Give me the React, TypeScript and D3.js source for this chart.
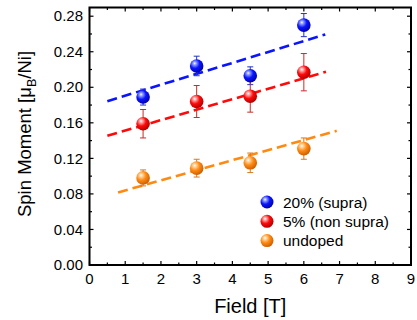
import React from "react";
import * as d3 from "d3";

const fields = [1.5, 3, 4.5, 6];
const seriesNames = ["20% (supra)", "5% (non supra)", "undoped"];
const blueVals = [0.189, 0.224, 0.213, 0.270];
const blueErr = [0.009, 0.011, 0.010, 0.013];
const redVals = [0.159, 0.184, 0.190, 0.217];
const redErr = [0.016, 0.018, 0.018, 0.021];
const orangeVals = [0.098, 0.109, 0.115, 0.131];
const orangeErr = [0.009, 0.010, 0.011, 0.012];
// fit lines: [xStart, yStart, xEnd, yEnd]
const blueFit = [0.5, 0.1844, 6.6, 0.2594];
const redFit = [0.5, 0.1454, 6.62, 0.2174];
const orangeFit = [0.8, 0.0817, 6.92, 0.151];
const xTicks = [0, 1, 2, 3, 4, 5, 6, 7, 8, 9];
const yTicks = [0, 0.04, 0.08, 0.12, 0.16, 0.2, 0.24, 0.28];

const W = 417, H = 320;
const L = 89.5, R = 411, T = 7.5, B = 265;

const colors = [
  { main: "#0a14ff", dark: "#0000a0", light: "#9aa8ff", err: "#2233cc" },
  { main: "#ff0a0a", dark: "#a80000", light: "#ffb0b0", err: "#cc2a2a" },
  { main: "#ff8a12", dark: "#c85a00", light: "#ffd9a8", err: "#d9781a" },
];

export default function App() {
  const x = d3.scaleLinear().domain([0, 9]).range([L, R]);
  const y = d3.scaleLinear().domain([0, 0.2898]).range([B, T]);
  const series = [
    { vals: blueVals, err: blueErr, fit: blueFit },
    { vals: redVals, err: redErr, fit: redFit },
    { vals: orangeVals, err: orangeErr, fit: orangeFit },
  ];
  const xMinor = d3.range(0.5, 9, 1);
  const yMinor = d3.range(0.02, 0.29, 0.04);
  const font = "Arial, 'Liberation Sans', sans-serif";
  const line = d3.line<[number, number]>().x((d) => x(d[0])).y((d) => y(d[1]));

  return (
    <svg width={W} height={H} style={{ position: "absolute", left: 0, top: 0 }} fontFamily={font}>
      <defs>
        {colors.map((c, i) => (
          <radialGradient key={i} id={`g${i}`} cx="0.38" cy="0.35" r="0.7" fx="0.35" fy="0.3">
            <stop offset="0" stopColor="#ffffff" />
            <stop offset="0.15" stopColor={c.light} />
            <stop offset="0.5" stopColor={c.main} />
            <stop offset="1" stopColor={c.dark} />
          </radialGradient>
        ))}
      </defs>
      <rect width={W} height={H} fill="#fff" />
      {/* fit lines */}
      {series.map((s, i) => (
        <path
          key={`f${i}`}
          d={line([[s.fit[0], s.fit[1]], [s.fit[2], s.fit[3]]]) || ""}
          stroke={colors[i].main}
          strokeWidth={2.6}
          strokeDasharray="10,5"
          fill="none"
        />
      ))}
      {/* error bars */}
      {series.map((s, i) =>
        fields.map((f, j) => {
          const cx = x(f);
          const y1 = y(s.vals[j] + s.err[j]);
          const y2 = y(s.vals[j] - s.err[j]);
          return (
            <g key={`e${i}-${j}`} stroke={colors[i].err} strokeWidth={1}>
              <line x1={cx} x2={cx} y1={y1} y2={y2} />
              <line x1={cx - 3} x2={cx + 3} y1={y1} y2={y1} />
              <line x1={cx - 3} x2={cx + 3} y1={y2} y2={y2} />
            </g>
          );
        })
      )}
      {/* markers */}
      {series.map((s, i) =>
        fields.map((f, j) => (
          <circle key={`m${i}-${j}`} cx={x(f)} cy={y(s.vals[j])} r={6.8} fill={`url(#g${i})`} />
        ))
      )}
      {/* frame */}
      <rect x={L} y={T} width={R - L} height={B - T} fill="none" stroke="#000" strokeWidth={2} />
      {/* ticks */}
      <g stroke="#000" strokeWidth={1.2}>
        {xTicks.map((t) => (
          <g key={`xt${t}`}>
            <line x1={x(t)} x2={x(t)} y1={B} y2={B - 4} />
            <line x1={x(t)} x2={x(t)} y1={T} y2={T + 4} />
          </g>
        ))}
        {xMinor.map((t) => (
          <g key={`xm${t}`}>
            <line x1={x(t)} x2={x(t)} y1={B} y2={B - 2.5} />
            <line x1={x(t)} x2={x(t)} y1={T} y2={T + 2.5} />
          </g>
        ))}
        {yTicks.map((t) => (
          <g key={`yt${t}`}>
            <line x1={L} x2={L + 4} y1={y(t)} y2={y(t)} />
            <line x1={R} x2={R - 4} y1={y(t)} y2={y(t)} />
          </g>
        ))}
        {yMinor.map((t) => (
          <g key={`ym${t}`}>
            <line x1={L} x2={L + 2.5} y1={y(t)} y2={y(t)} />
            <line x1={R} x2={R - 2.5} y1={y(t)} y2={y(t)} />
          </g>
        ))}
      </g>
      {/* tick labels */}
      {xTicks.map((t) => (
        <text key={`xl${t}`} x={x(t)} y={B + 18.5} textAnchor="middle" fontSize={15}>
          {t}
        </text>
      ))}
      {yTicks.map((t) => (
        <text key={`yl${t}`} x={L - 6.5} y={y(t) + 5.2} textAnchor="end" fontSize={15}>
          {t.toFixed(2)}
        </text>
      ))}
      {/* axis titles */}
      <text x={(L + R) / 2} y={313} textAnchor="middle" fontSize={20}>
        Field [T]
      </text>
      <text transform={`translate(31,${134}) rotate(-90)`} textAnchor="middle" fontSize={18.5}>
        Spin Moment [μ
        <tspan fontSize={12.5} dy={4.5}>B</tspan>
        <tspan dy={-4.5}>/Ni]</tspan>
      </text>
      {/* legend */}
      {seriesNames.map((n, i) => (
        <g key={`lg${i}`}>
          <circle cx={267} cy={202 + i * 19.3} r={6.5} fill={`url(#g${i})`} />
          <text x={283} y={207.5 + i * 19.3} fontSize={15.5}>
            {n}
          </text>
        </g>
      ))}
    </svg>
  );
}
